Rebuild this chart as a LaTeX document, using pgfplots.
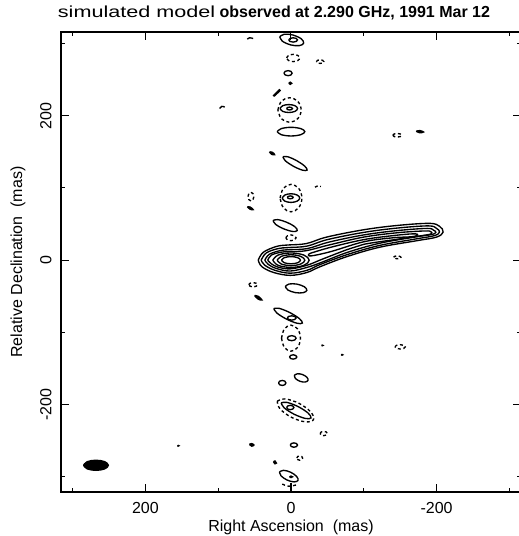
\documentclass[border=0pt]{standalone}
\usepackage{fontspec}
\setmainfont{Liberation Sans}
\usepackage{pgfplots}
\pgfplotsset{compat=1.18}
\pgfplotsset{
  pos/.style={black,line width=1.35pt,smooth,tension=0.6,mark=none},
  neg/.style={pos,dash pattern=on 3pt off 2.6pt},
  blob/.style={pos,fill=black},
}
\newcommand{\fs}{\fontsize{16}{19}\selectfont}
\begin{document}
\begin{tikzpicture}
\useasboundingbox (-61pt,-44pt) rectangle (458pt,492pt);
\begin{axis}[
  at={(0,0)}, anchor=south west,
  scale only axis, width=460pt, height=460pt,
  x dir=reverse,
  xmin=-316, xmax=316, ymin=-321, ymax=316,
  xtick={-200,0,200}, ytick={-200,0,200},
  minor xtick={-300,-100,100,300}, minor ytick={-300,-100,100,300},
  tick align=inside, major tick length=8pt, minor tick length=4pt,
  axis line style={line width=1.2pt},
  every tick/.style={black,line width=1pt},
  /pgf/number format/assume math mode=true,
  tick label style={font=\fs},
  xticklabel style={yshift=-7pt},
  yticklabel style={rotate=90,anchor=south,xshift=0pt,yshift=6pt},
  label style={font=\fs},
  xlabel={Right Ascension\ \ (mas)},
  ylabel={Relative Declination\ \ (mas)},
  xlabel style={at={(axis description cs:0.5,-0.0775)},anchor=center},
  ylabel style={at={(axis description cs:-0.0935,0.5)},anchor=center},
  title={\scalebox{1.35}[1]{simulated model} \textbf{observed at 2.290 GHz, 1991 Mar 12}},
  title style={font=\fs,at={(axis description cs:0.463,1.028)},anchor=center},
]
% ---- main source (core + jet) ----
\addplot[pos] coordinates {(45,0)(38,11)(20,19)(5,21)(-21,23)(-49,32)(-99,42)(-145,48)(-190,51)(-204,47)(-209,39)(-200,32)(-173,27)(-122,18)(-77,5)(-40,-9)(-22,-17)(1,-21)(24,-17)(40,-9)(45,0)};
\addplot[pos] coordinates {(41,0)(34,10)(18,16)(4,17.5)(-22,19.5)(-50,28.5)(-100,38.5)(-146,44.5)(-189,47.5)(-200,44)(-204,39)(-197,34)(-172,29.5)(-122,20.5)(-78,8)(-40,-6)(-22,-14)(1,-18)(22,-14)(36,-7)(41,0)};
\addplot[pos] coordinates {(36,0)(30,8)(16,13)(4,14.5)(-22,16)(-52,25)(-100,35)(-146,41)(-187,44)(-196,41.5)(-199,38.5)(-193,35.5)(-170,32)(-122,23.5)(-78,11)(-42,-3)(-22,-10)(1,-15)(20,-11.5)(31,-6)(36,0)};
\addplot[pos] coordinates {(32,0)(27,7)(14,11)(2,12)(-20,13)(-52,21)(-100,32)(-146,38)(-184,40.5)(-192,39.5)(-193,37)(-186,35)(-146,29)(-100,22)(-78,15)(-42,1)(-22,-7)(1,-12)(18,-9.5)(27,-5)(32,0)};
\addplot[pos] coordinates {(-28,10)(-55,18)(-100,28.5)(-140,34)(-168,36.5)(-174,35)(-166,32.5)(-140,31)(-100,25.5)(-55,12)(-28,6)(-24,8)(-28,10)};
\addplot[pos] coordinates {(25,0)(17.7,7.1)(0,10)(-17.7,7.1)(-25,0)(-17.7,-7.1)(0,-10)(17.7,-7.1)(25,0)};
\addplot[pos] coordinates {(19,0)(13.4,5.3)(0,7.5)(-13.4,5.3)(-19,0)(-13.4,-5.3)(0,-7.5)(13.4,-5.3)(19,0)};
\addplot[pos] coordinates {(13,0)(9.2,3.5)(0,5)(-9.2,3.5)(-13,0)(-9.2,-3.5)(0,-5)(9.2,-3.5)(13,0)};
% ---- positive sidelobes ----
\addplot[pos] coordinates {(15.4,309.4)(9.3,312.9)(-2.8,311.8)(-13.9,306.7)(-17.4,300.6)(-11.3,297.1)(0.8,298.2)(11.9,303.3)(15.4,309.4)};
\addplot[pos] coordinates {(3,305)(1.2,307.1)(-3,308)(-7.2,307.1)(-9,305)(-7.2,302.9)(-3,302)(1.2,302.9)(3,305)};
\addplot[pos] coordinates {(9.5,259)(7.9,261.5)(4,262.5)(0.1,261.5)(-1.5,259)(0.1,256.5)(4,255.5)(7.9,256.5)(9.5,259)};
\addplot[pos] coordinates {(15,210)(11.5,213.9)(3,215.5)(-5.5,213.9)(-9,210)(-5.5,206.1)(3,204.5)(11.5,206.1)(15,210)};
\addplot[pos] coordinates {(6,210)(4.8,211.4)(2,212)(-0.8,211.4)(-2,210)(-0.8,208.6)(2,208)(4.8,208.6)(6,210)};
\addplot[pos] coordinates {(19,178)(13.4,182.2)(0,184)(-13.4,182.2)(-19,178)(-13.4,173.8)(0,172)(13.4,173.8)(19,178)};
\addplot[pos] coordinates {(11.1,143.2)(4.7,143.3)(-7.7,137.9)(-18.8,130.3)(-22.1,124.8)(-15.7,124.7)(-3.3,130.1)(7.8,137.7)(11.1,143.2)};
\addplot[pos] coordinates {(12,86)(8.5,90.2)(0,92)(-8.5,90.2)(-12,86)(-8.5,81.8)(0,80)(8.5,81.8)(12,86)};
\addplot[pos] coordinates {(5,87)(3.8,88.4)(1,89)(-1.8,88.4)(-3,87)(-1.8,85.6)(1,85)(3.8,85.6)(5,87)};
\addplot[pos] coordinates {(24.6,55)(18.3,56.2)(6,52.6)(-5.2,46.3)(-8.6,41)(-2.3,39.8)(10,43.4)(21.2,49.7)(24.6,55)};
\addplot[pos] coordinates {(7.8,-36.4)(2.8,-33)(-8,-33.1)(-18.2,-36.7)(-21.8,-41.6)(-16.8,-45)(-6,-44.9)(4.2,-41.3)(7.8,-36.4)};
\addplot[pos] coordinates {(23.6,-67)(16.2,-66.7)(1.7,-72.5)(-11.5,-80.9)(-15.6,-87)(-8.2,-87.3)(6.3,-81.5)(19.5,-73.1)(23.6,-67)};
\addplot[pos] coordinates {(5,-80)(3.2,-77.9)(-1,-77)(-5.2,-77.9)(-7,-80)(-5.2,-82.1)(-1,-83)(3.2,-82.1)(5,-80)};
\addplot[pos] coordinates {(5,-108)(3.2,-105.5)(-1,-104.5)(-5.2,-105.5)(-7,-108)(-5.2,-110.5)(-1,-111.5)(3.2,-110.5)(5,-108)};
\addplot[pos] coordinates {(2,-134)(0.5,-131.9)(-3,-131)(-6.5,-131.9)(-8,-134)(-6.5,-136.1)(-3,-137)(0.5,-136.1)(2,-134)};
\addplot[pos] coordinates {(-4.6,-159.6)(-8.6,-157.3)(-15.7,-158.3)(-21.8,-162.1)(-23.4,-166.4)(-19.4,-168.7)(-12.3,-167.7)(-6.2,-163.9)(-4.6,-159.6)};
\addplot[pos] coordinates {(17,-170)(15.5,-167.5)(12,-166.5)(8.5,-167.5)(7,-170)(8.5,-172.5)(12,-173.5)(15.5,-172.5)(17,-170)};
\addplot[pos] coordinates {(13.5,-197.6)(5.6,-196.9)(-9.7,-202.7)(-23.4,-211.6)(-27.5,-218.4)(-19.6,-219.1)(-4.3,-213.3)(9.4,-204.4)(13.5,-197.6)};
\addplot[pos] coordinates {(6,-204)(4.5,-201.9)(1,-201)(-2.5,-201.9)(-4,-204)(-2.5,-206.1)(1,-207)(4.5,-206.1)(6,-204)};
\addplot[pos] coordinates {(1,-256)(-0.5,-253.9)(-4,-253)(-7.5,-253.9)(-9,-256)(-7.5,-258.1)(-4,-259)(-0.5,-258.1)(1,-256)};
\addplot[pos] coordinates {(15.7,-293.1)(10.2,-291)(0.5,-293.6)(-7.7,-299.4)(-9.7,-304.9)(-4.2,-307)(5.5,-304.4)(13.7,-298.6)(15.7,-293.1)};
% ---- small blobs ----
\addplot[blob] coordinates {(29.5,150)(25.3,149.3)(22.5,146)(26.8,146.7)(29.5,150)};
\addplot[blob] coordinates {(60,74)(56,73.5)(52,70)(56,70.5)(60,74)};
\addplot[blob] coordinates {(50,-49)(45,-50)(40,-55)(45,-54)(50,-49)};
\addplot[blob] coordinates {(-172,178.5)(-177,179.5)(-182,177.5)(-177,176.5)(-172,178.5)};
\addplot[blob] coordinates {(24,-279)(22,-278)(20,-281)(22,-282)(24,-279)};
\addplot[blob] coordinates {(57,-255)(54,-254)(51,-256)(54,-257.5)(57,-255)};
\addplot[blob] coordinates {(3,245)(1,246.5)(-1,245)(1,243.5)(3,245)};
\addplot[blob] coordinates {(2,-300)(0,-299)(-2,-300)(0,-301)(2,-300)};
\addplot[blob] coordinates {(156,-257)(155,-256.5)(154,-257)(155,-257.5)(156,-257)};
\addplot[blob] coordinates {(-69,-131)(-70,-130.5)(-71,-131)(-70,-131.5)(-69,-131)};
\addplot[blob] coordinates {(-42,-118)(-43,-117.5)(-44,-118)(-43,-118.5)(-42,-118)};
\addplot[blob] coordinates {(23,227)(18,232)(15,235)(16,236)(19,233)(24,228)(23,227)};
\addplot[pos] coordinates {(91,212)(95,213)(98,210)};
\addplot[pos] coordinates {(60,306)(57,308)(52,307)};
\addplot[pos] coordinates {(0,-308)(0,-321)};
% ---- negative (dashed) contours ----
\addplot[neg] coordinates {(6,280)(3.4,283.5)(-3,285)(-9.4,283.5)(-12,280)(-9.4,276.5)(-3,275)(3.4,276.5)(6,280)};
\addplot[neg] coordinates {(-35,275)(-36.5,276.8)(-40,277.5)(-43.5,276.8)(-45,275)(-43.5,273.2)(-40,272.5)(-36.5,273.2)(-35,275)};
\addplot[neg] coordinates {(18,208)(13.3,220)(2,225)(-9.3,220)(-14,208)(-9.3,196)(2,191)(13.3,196)(18,208)};
\addplot[neg] coordinates {(15,86)(10.6,99.4)(0,105)(-10.6,99.4)(-15,86)(-10.6,72.6)(0,67)(10.6,72.6)(15,86)};
\addplot[neg] coordinates {(59,88)(57.8,92.2)(55,94)(52.2,92.2)(51,88)(52.2,83.8)(55,82)(57.8,83.8)(59,88)};
\addplot[neg] coordinates {(7,31)(4.9,33.8)(0,35)(-4.9,33.8)(-7,31)(-4.9,28.2)(0,27)(4.9,28.2)(7,31)};
\addplot[neg] coordinates {(58,-34)(56.2,-31.9)(52,-31)(47.8,-31.9)(46,-34)(47.8,-36.1)(52,-37)(56.2,-36.1)(58,-34)};
\addplot[neg] coordinates {(-141,4)(-142.5,5.4)(-146,6)(-149.5,5.4)(-151,4)(-149.5,2.6)(-146,2)(-142.5,2.6)(-141,4)};
\addplot[neg] coordinates {(-140,173)(-141.8,174.8)(-146,175.5)(-150.2,174.8)(-152,173)(-150.2,171.2)(-146,170.5)(-141.8,171.2)(-140,173)};
\addplot[neg] coordinates {(-143,-120)(-145,-117.9)(-150,-117)(-155,-117.9)(-157,-120)(-155,-122.1)(-150,-123)(-145,-122.1)(-143,-120)};
\addplot[neg] coordinates {(13,-108)(9.2,-95.3)(0,-90)(-9.2,-95.3)(-13,-108)(-9.2,-120.7)(0,-126)(9.2,-120.7)(13,-108)};
\addplot[neg] coordinates {(18.9,-195.3)(8.1,-192.1)(-11,-198.2)(-27.1,-210.1)(-30.9,-220.7)(-20.1,-223.9)(-1,-217.8)(15.1,-205.9)(18.9,-195.3)};
\addplot[neg] coordinates {(-40,-240)(-41.5,-237.9)(-45,-237)(-48.5,-237.9)(-50,-240)(-48.5,-242.1)(-45,-243)(-41.5,-242.1)(-40,-240)};
\addplot[neg] coordinates {(-8,-274)(-9.2,-271.9)(-12,-271)(-14.8,-271.9)(-16,-274)(-14.8,-276.1)(-12,-277)(-9.2,-276.1)(-8,-274)};
\addplot[neg] coordinates {(12,-310)(3,-313)(-8,-311)};
\addplot[neg] coordinates {(-33,101)(-37,103)(-41,102)};
% ---- beam ----
\addplot[blob] coordinates {(285,-284)(280,-279)(268,-277)(256,-279)(251,-284)(256,-289)(268,-291)(280,-289)(285,-284)};
\end{axis}
\end{tikzpicture}
\end{document}
